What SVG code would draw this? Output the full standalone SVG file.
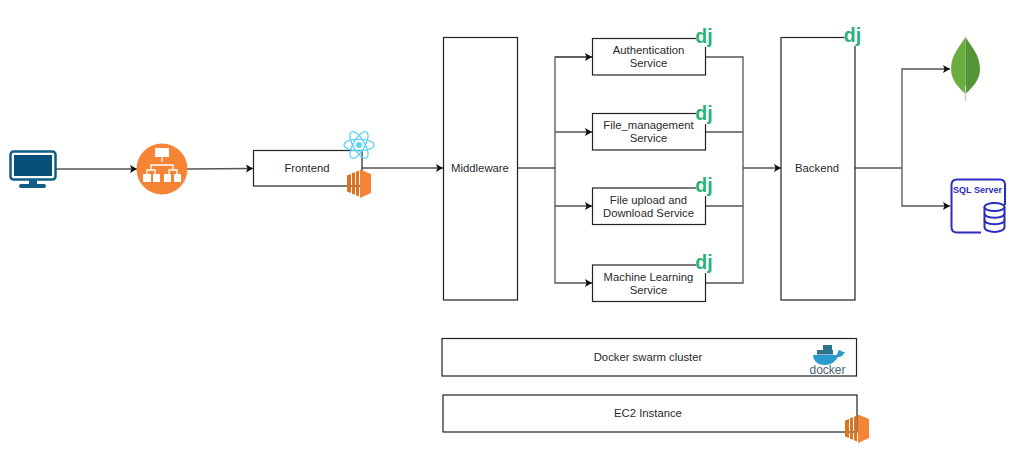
<svg xmlns="http://www.w3.org/2000/svg" width="1017" height="455" viewBox="0 0 1017 455">
<style>
.box{fill:#fff;stroke:#222;stroke-width:1.2}
.lbl{font-family:"Liberation Sans",Arial,sans-serif;font-size:11.3px;fill:#2a2a2a;text-anchor:middle}
.dj{font-family:"Liberation Sans",Arial,sans-serif;font-size:19.500px;font-weight:700;fill:#2bb07f;text-anchor:middle}
.c{fill:none;stroke:#555;stroke-width:1.3}
</style>
<defs>
<marker id="a" markerUnits="userSpaceOnUse" markerWidth="8" markerHeight="8" refX="7" refY="4" orient="auto"><path d="M0 0L7 4L0 8L1.5 4Z" fill="#111"/></marker>
<g id="ec2"><path d="M0 6.500L4 5V24L0 22.500Z M5 4.300L8 3.200V25.800L5 24.700Z M9 2.700L12 1.500V27.500L9 26.300Z" fill="#d9741f"/><path d="M13 0.500L24 5V24L13 29Z" fill="#f58534"/></g>
<g id="dj"><rect x="-8" y="-14" width="16" height="18" fill="#fff"/><text class="dj" x="0" y="0">dj</text></g>
</defs>
<g id="connectors">
<path class="c" d="M56 169H137" marker-end="url(#a)"/>
<path class="c" d="M187 169L253 168.500" marker-end="url(#a)"/>
<path class="c" d="M362 168H443" marker-end="url(#a)"/>
<path class="c" d="M517 168H555"/>
<path class="c" d="M592 57H555V283H592" marker-end="url(#a)"/>
<path class="c" d="M555 132H592" marker-end="url(#a)"/>
<path class="c" d="M555 206H592" marker-end="url(#a)"/>
<path class="c" d="M555 57H592" marker-end="url(#a)"/>
<path class="c" d="M705 57H743V283H705"/>
<path class="c" d="M705 132H743M705 206H743"/>
<path class="c" d="M743 168H781" marker-end="url(#a)"/>
<path class="c" d="M855 168H902"/>
<path class="c" d="M902 168V69H950" marker-end="url(#a)"/>
<path class="c" d="M902 168V206H950" marker-end="url(#a)"/>
</g>
<g id="client">
<rect x="10.500" y="151.500" width="45" height="28" rx="3" fill="#fff" stroke="#0f5f85" stroke-width="2.500"/>
<rect x="14" y="155" width="38" height="21" fill="#045078"/>
<rect x="29" y="180" width="8" height="5" fill="#0f5f85"/>
<rect x="19" y="184" width="27" height="4" rx="2" fill="#0f5f85"/>
</g>
<g id="load-balancer">
<circle cx="162" cy="169" r="25.500" fill="#f58534"/>
<rect x="155" y="148" width="14" height="9" fill="#fff"/>
<path d="M162 157V162M151 170V165H173V170M147 175V170H155V175M169 175V170H177V175" fill="none" stroke="#fff" stroke-width="1.300"/>
<path d="M143 174h8v8h-8zM153 174h7v8h-7zM164 174h7v8h-7zM174 174h7v8h-7z" fill="#fff"/>
</g>
<g id="frontend">
<rect class="box" x="253.500" y="150.500" width="108.500" height="35.500"/>
<text class="lbl" x="307" y="172">Frontend</text>
<g fill="none" stroke="#5fd3f3" stroke-width="1.300">
<ellipse cx="359" cy="145" rx="15" ry="5.800"/>
<ellipse cx="359" cy="145" rx="15" ry="5.800" transform="rotate(60 359 145)"/>
<ellipse cx="359" cy="145" rx="15" ry="5.800" transform="rotate(120 359 145)"/>
</g>
<circle cx="359" cy="145" r="3" fill="#5fd3f3"/>
<use href="#ec2" transform="translate(347 169)"/>
</g>
<g id="middleware">
<rect class="box" x="443.500" y="37.500" width="74" height="262.500"/>
<text class="lbl" x="480" y="172">Middleware</text>
</g>
<g id="authentication-service">
<rect class="box" x="592.500" y="38.500" width="113" height="36.500"/>
<text class="lbl" x="648.500" y="54">Authentication</text>
<text class="lbl" x="648.500" y="67">Service</text>
<use href="#dj" transform="translate(704 43)"/>
</g>
<g id="file-management-service">
<rect class="box" x="592.500" y="113.500" width="113" height="36.500"/>
<text class="lbl" x="648.500" y="129">File_management</text>
<text class="lbl" x="648.500" y="142">Service</text>
<use href="#dj" transform="translate(704 120)"/>
</g>
<g id="file-upload-service">
<rect class="box" x="592.500" y="188" width="113" height="36.500"/>
<text class="lbl" x="648.500" y="204">File upload and</text>
<text class="lbl" x="648.500" y="217">Download Service</text>
<use href="#dj" transform="translate(704 192)"/>
</g>
<g id="machine-learning-service">
<rect class="box" x="592.500" y="265" width="113" height="36.500"/>
<text class="lbl" x="648.500" y="281">Machine Learning</text>
<text class="lbl" x="648.500" y="294">Service</text>
<use href="#dj" transform="translate(704 269)"/>
</g>
<g id="backend">
<rect class="box" x="781" y="37.500" width="74" height="262.500"/>
<text class="lbl" x="817" y="172">Backend</text>
<use href="#dj" transform="translate(852.500 42)"/>
</g>
<g id="mongodb">
<path d="M965.500 37C961 45 951 54 951 69C951 80 959 88 965.500 94Z" fill="#69ae3f"/>
<path d="M965.500 37C970 45 980 54 980 69C980 80 972 88 965.500 94Z" fill="#549436"/>
<path d="M965.500 86V101" stroke="#c9cfc4" stroke-width="1.500"/>
</g>
<g id="sql-server">
<path d="M981 232.500H957Q951.500 232.500 951.500 227V185Q951.500 179.500 957 179.500H1000Q1005 179.500 1005 185V205" fill="none" stroke="#2a2dbd" stroke-width="2"/>
<text x="977.500" y="193" font-family="'Liberation Sans',sans-serif" font-size="9" font-weight="700" fill="#2a2dbd" text-anchor="middle">SQL Server</text>
<g fill="#fff" stroke="#2a2dbd" stroke-width="2">
<path d="M984.500 207V227C984.500 233.500 1004.500 233.500 1004.500 227V207"/>
<ellipse cx="994.500" cy="207" rx="10" ry="4"/>
<path d="M984.500 213.500C984.500 219 1004.500 219 1004.500 213.500M984.500 220C984.500 225.500 1004.500 225.500 1004.500 220" fill="none"/>
</g>
</g>
<g id="docker-swarm-cluster">
<rect class="box" x="442" y="338.500" width="414.500" height="37.500"/>
<text class="lbl" x="648" y="361">Docker swarm cluster</text>
<path d="M813 355H837C838 352 838 350 840 350C841 351 842 352 845 352C843 356 841 357 838 357C835 362 831 365 825 365C817 365 813 360 813 355Z" fill="#2a9bcb"/>
<path d="M817 350h16v4.500h-16zM823 345h9v5h-9z" fill="#2c7390"/>
<text x="827.500" y="374" font-family="'Liberation Sans',sans-serif" font-size="12" fill="#4c6573" text-anchor="middle">docker</text>
</g>
<g id="ec2-instance">
<rect class="box" x="443" y="395" width="414" height="37"/>
<text class="lbl" x="648" y="417">EC2 Instance</text>
<use href="#ec2" transform="translate(845 414)"/>
</g>
</svg>
